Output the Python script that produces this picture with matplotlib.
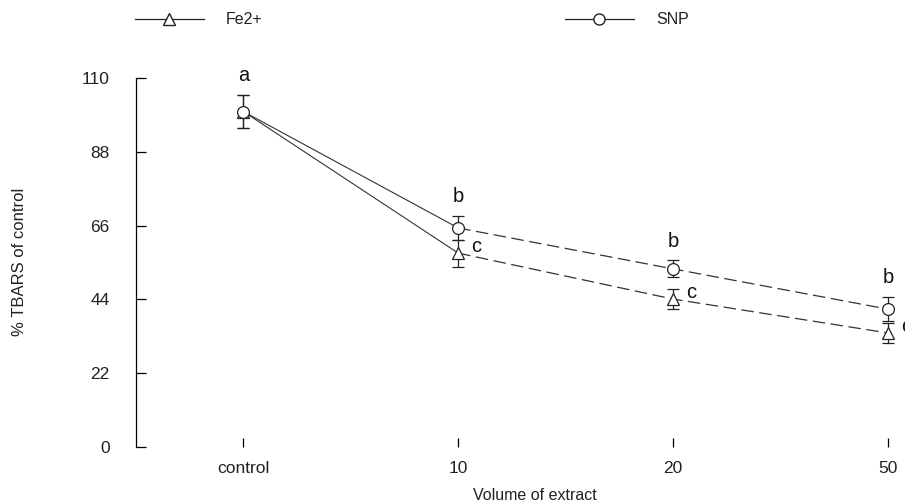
import matplotlib.pyplot as plt
from matplotlib.lines import Line2D

plt.rcParams['font.family'] = ['Liberation Sans', 'DejaVu Sans']
plt.rcParams['lines.scale_dashes'] = False

# data
doses = ['control', '10', '20', '50']
fe_vals = [100, 57.8, 44.1, 34.0]
fe_err = [4.8, 4.0, 3.0, 3.0]
snp_vals = [100, 65.3, 53.1, 41.1]
snp_err = [4.8, 3.6, 2.5, 3.6]
fe_letters = ['', 'c', 'c', 'c']
snp_letters = ['a', 'b', 'b', 'b']
yticks = [0, 22, 44, 66, 88, 110]

fig = plt.figure(figsize=(9.05, 5.03), dpi=100)
ax = fig.add_axes([136 / 905, 56 / 503, 1 - 136 / 905, 369 / 503])

x = list(range(len(doses)))
dash = (0, (9, 4))

for vals, err, mk, ms in [(fe_vals, fe_err, '^', 9), (snp_vals, snp_err, 'o', 8.5)]:
    ax.plot(x[:2], vals[:2], color='#333333', lw=0.8)
    ax.plot(x[1:], vals[1:], color='#333333', lw=0.9, linestyle=dash)
    ax.errorbar(x, vals, yerr=err, fmt='none', ecolor='#222222', elinewidth=0.9,
                capsize=4, capthick=0.9, clip_on=False)
    ax.plot(x, vals, linestyle='none', marker=mk, ms=ms, mfc='white', mec='#222222',
            mew=0.9, clip_on=False, zorder=3)

for xi, v, e, lab in zip(x, snp_vals, snp_err, snp_letters):
    ax.annotate(lab, (xi, v + e), xytext=(0, 14), textcoords='offset points',
                ha='center', va='center', fontsize=14.5, color='#111111',
                annotation_clip=False)
for xi, v, lab in zip(x, fe_vals, fe_letters):
    ax.annotate(lab, (xi, v), xytext=(13, 5), textcoords='offset points',
                ha='center', va='center', fontsize=14.5, color='#111111',
                annotation_clip=False)

ax.set_xlim(-0.5, 3.08)
ax.set_ylim(0, 110)
ax.set_xticks(x)
ax.set_xticklabels(doses)
ax.set_yticks(yticks)
ax.set_yticklabels([str(t) for t in yticks])
for s in ['top', 'right', 'bottom']:
    ax.spines[s].set_visible(False)
ax.spines['left'].set_linewidth(0.9)
ax.tick_params(axis='y', direction='in', length=7.5, width=0.9, pad=19,
               labelsize=12.5, labelcolor='#222222')
ax.tick_params(axis='x', direction='in', length=6.5, width=0.9, pad=10,
               labelsize=12.5, labelcolor='#222222')
ax.patch.set_alpha(0)

fig.text(535 / 905, 1 - 495 / 503, 'Volume of extract', ha='center', va='center',
         fontsize=11.5, color='#222222')
fig.text(20 / 905, 1 - 262 / 503, '% TBARS of control', rotation=90, ha='center',
         va='center', fontsize=12, color='#222222')

h_fe = Line2D([], [], color='#222222', lw=0.9, marker='^', ms=8, mfc='white', mec='#222222')
h_snp = Line2D([], [], color='#222222', lw=0.9, marker='o', ms=8, mfc='white', mec='#222222')
for h, lab, xl in [(h_fe, 'Fe2+', 135), (h_snp, 'SNP', 565)]:
    fig.legend([h], [lab], loc='center left', bbox_to_anchor=(xl / 905, 1 - 20 / 503),
               frameon=False, borderpad=0, borderaxespad=0, handlelength=4.3,
               handletextpad=1.4, fontsize=11.5, labelcolor='#222222')

fig.savefig('out.png', dpi=100)
